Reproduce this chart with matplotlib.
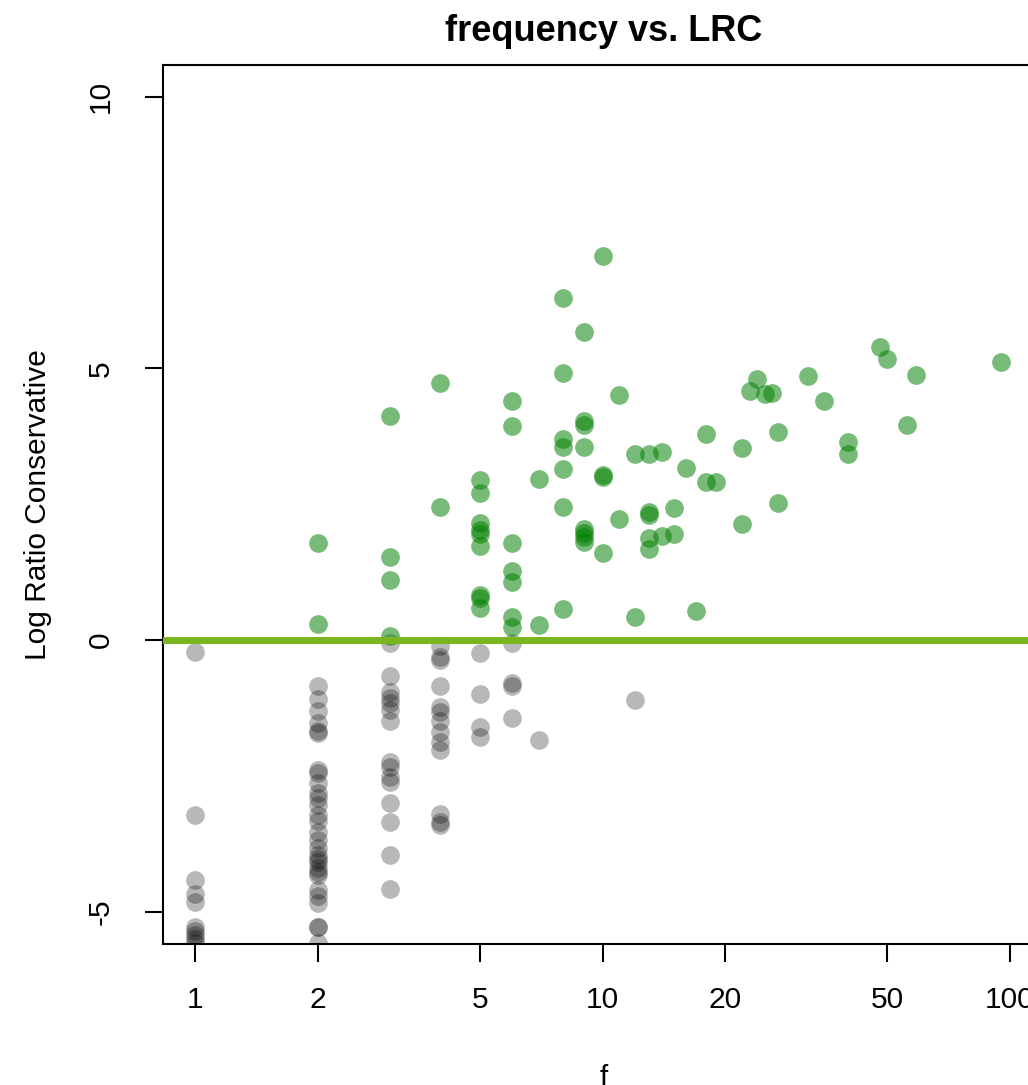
import matplotlib
matplotlib.use("Agg")
from matplotlib import pyplot as plt
import numpy as np

plt.rcParams['font.family'] = ['Liberation Sans', 'DejaVu Sans']

# frequency f and log ratio (conservative)
freq = ([1] * 10 + [2] * 31 + [3] * 19 + [4] * 15 + [5] * 13 + [6] * 11 + [7] * 3
        + [8] * 7 + [9] * 8 + [10] * 4 + [11] * 2 + [12] * 3 + [13] * 5 + [14] * 2
        + [15] * 2 + [16, 17, 18, 18, 19, 22, 22, 23, 24, 25, 26, 27, 27, 32, 35,
                    40, 40, 48, 50, 56, 59, 95])
lrc = [
    # f = 1
    -0.22, -3.22, -4.42, -4.68, -4.83, -5.28, -5.36, -5.43, -5.50, -5.57,
    # f = 2
    1.79, 0.29, -0.84, -1.09, -1.30, -1.52, -1.68, -1.72, -2.39, -2.44, -2.64,
    -2.82, -2.91, -3.04, -3.22, -3.34, -3.53, -3.68, -3.83, -3.96, -4.04, -4.08,
    -4.20, -4.28, -4.33, -4.60, -4.72, -4.85, -5.28, -5.28, -5.58,
    # f = 3
    4.12, 1.52, 1.10, 0.08, -0.06, -0.67, -0.95, -1.07, -1.17, -1.29, -1.50,
    -2.24, -2.33, -2.52, -2.61, -3.01, -3.36, -3.96, -4.58,
    # f = 4
    4.73, 2.44, -0.12, -0.31, -0.37, -0.85, -1.23, -1.32, -1.50, -1.69, -1.87,
    -2.02, -3.20, -3.36, -3.41,
    # f = 5
    2.94, 2.70, 2.16, 2.02, 1.95, 1.72, 0.83, 0.77, 0.58, -0.25, -1.00, -1.60, -1.79,
    # f = 6
    4.39, 3.94, 1.78, 1.26, 1.07, 0.43, 0.24, -0.06, -0.80, -0.84, -1.43,
    # f = 7
    2.96, 0.28, -1.85,
    # f = 8
    6.29, 4.92, 3.69, 3.55, 3.14, 2.44, 0.57,
    # f = 9
    5.66, 4.02, 3.96, 3.55, 2.04, 1.96, 1.90, 1.81,
    # f = 10
    7.07, 3.04, 2.99, 1.60,
    # f = 11
    4.51, 2.22,
    # f = 12
    3.42, 0.43, -1.10,
    # f = 13
    3.42, 2.36, 2.30, 1.87, 1.67,
    # f = 14, 15
    3.45, 1.91, 2.42, 1.95,
    # f = 16 .. 95
    3.17, 0.53, 3.79, 2.90, 2.90, 3.54, 2.14, 4.58, 4.80, 4.52, 4.54, 3.83, 2.52,
    4.86, 4.40, 3.65, 3.42, 5.39, 5.17, 3.96, 4.87, 5.12,
]

xticks = [1, 2, 5, 10, 20, 50, 100]
yticks = [-5, 0, 5, 10]

freq = np.array(freq)
lrc = np.array(lrc)
pos = lrc > 0

fig = plt.figure(figsize=(10.28, 10.85), dpi=100)
ax = fig.add_axes([0.1586, 0.130, 0.8463, 0.8101])

ax.scatter(freq[~pos], lrc[~pos], s=182, color=(0, 0, 0, 0.28), linewidths=0, zorder=2)
ax.scatter(freq[pos], lrc[pos], s=182, color=(0, 0.5, 0, 0.53), linewidths=0, zorder=2)
ax.axhline(0, color='#7AB520', linewidth=5, zorder=3)

ax.set_xscale('log')
ax.set_xlim(10 ** -0.079, 10 ** 2.057)
ax.set_ylim(-5.595, 10.58)
ax.set_xticks(xticks)
ax.set_xticklabels([str(t) for t in xticks])
ax.minorticks_off()
ax.set_yticks(yticks)
ax.set_yticklabels([str(t) for t in yticks], rotation=90, va='center')

for sp in ax.spines.values():
    sp.set_linewidth(1.5)
ax.tick_params(axis='both', length=13, width=1.5, labelsize=21.5, direction='out')
ax.tick_params(axis='x', pad=17)
ax.tick_params(axis='y', pad=22)

ax.set_title('frequency vs. LRC', fontsize=26, fontweight='bold', pad=17, x=0.506)
ax.set_xlabel('f', fontsize=21.5, labelpad=36, x=0.506)
ax.set_ylabel('Log Ratio Conservative', fontsize=21.5, labelpad=25)

fig.savefig('out.png', dpi=100)
